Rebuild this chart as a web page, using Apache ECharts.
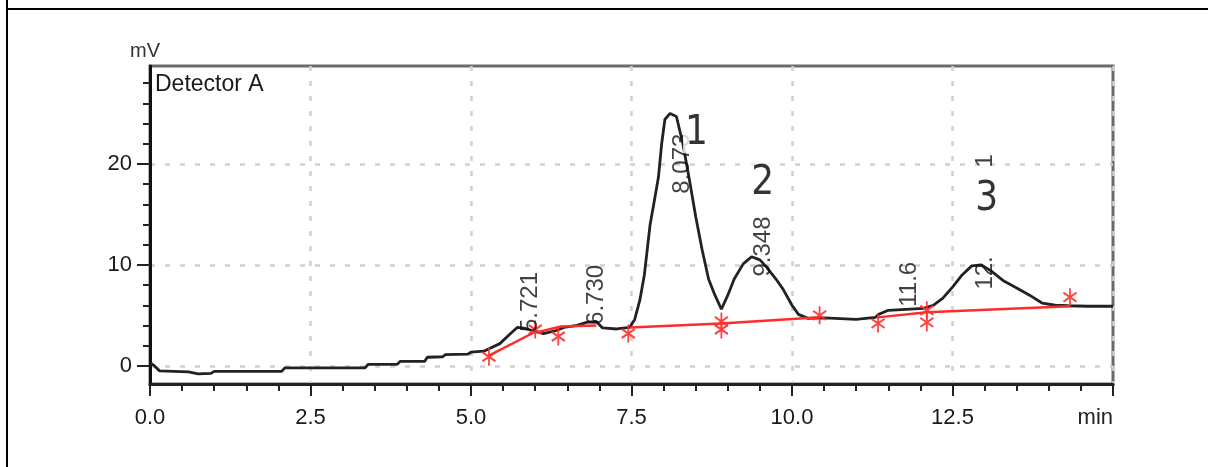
<!DOCTYPE html>
<html lang="en">
<head>
<meta charset="UTF-8">
<title>Chromatogram</title>
<script src="https://cdn.jsdelivr.net/npm/echarts@6/dist/echarts.min.js"></script>
<style>
  html, body { margin: 0; padding: 0; background: #fff; }
  #main { position: absolute; left: 0; top: 0; width: 1208px; height: 467px; }
  .edgeL { position: absolute; left: 6px; top: 0; width: 2px; height: 467px; background: #000; }
  .edgeT { position: absolute; left: 6px; top: 8px; width: 1202px; height: 2px; background: #000; }
</style>
</head>
<body>
<div id="main"></div>
<div class="edgeL"></div>
<div class="edgeT"></div>
<script type="text/javascript">
// detector trace (min, mV)
var traceTime = [0.00, 0.05, 0.15, 0.60, 0.75, 0.95, 1.00, 2.05, 2.10, 3.35, 3.40, 3.85, 3.90, 4.28, 4.32, 4.56, 4.60, 4.95,
  5.00, 5.20, 5.28, 5.45, 5.60, 5.72, 5.85, 5.95, 6.13, 6.33, 6.45, 6.65, 6.80, 6.95, 7.05, 7.27, 7.47, 7.55, 7.63, 7.70,
  7.79, 7.86, 7.92, 7.97, 8.02, 8.10, 8.20, 8.30, 8.40, 8.50, 8.60, 8.70, 8.80, 8.90, 9.00, 9.10, 9.24, 9.37, 9.50, 9.60,
  9.75, 9.86, 10.00, 10.10, 10.25, 10.50, 11.00, 11.30, 11.35, 11.50, 12.05, 12.20, 12.35, 12.50, 12.65, 12.80, 12.95,
  13.10, 13.30, 13.50, 13.70, 13.90, 14.10, 14.30, 14.60, 15.00];
var traceMv = [0.3, 0.1, -0.5, -0.6, -0.8, -0.75, -0.55, -0.55, -0.2, -0.2, 0.15, 0.15, 0.45, 0.45, 0.85, 0.9, 1.1, 1.15,
  1.35, 1.45, 1.7, 2.2, 3.1, 3.8, 3.7, 3.5, 3.2, 3.5, 3.8, 4.0, 4.3, 4.4, 3.75, 3.65, 3.8, 4.6, 6.5, 9.0,
  14.0, 16.5, 18.7, 22.0, 24.4, 25.0, 24.7, 22.0, 18.5, 14.8, 11.5, 8.6, 7.0, 5.6, 7.0, 8.6, 10.1, 10.8, 10.5, 9.8,
  8.6, 7.6, 6.0, 5.1, 4.7, 4.75, 4.6, 4.8, 5.1, 5.5, 5.7, 6.0, 6.7, 7.8, 9.0, 9.9, 10.0,
  9.4, 8.4, 7.7, 7.0, 6.2, 6.0, 5.95, 5.9, 5.9];

// integration baselines (null breaks the line)
var baseTime = [5.28, 5.98, null, 6.02, 6.40, 6.95, null, 7.48, 8.90, 10.43, null, 11.34, 12.10, 14.33];
var baseMv = [1.0, 3.3, null, 3.3, 3.9, 4.0, null, 3.8, 4.2, 4.8, null, 4.8, 5.3, 5.9];

// peak start/end marks
var markTime = [5.28, 6.00, 6.36, 7.45, 8.90, 8.90, 10.43, 11.34, 12.10, 12.10, 14.33];
var markMv = [0.9, 3.6, 2.9, 3.2, 4.4, 3.6, 5.0, 4.2, 5.5, 4.3, 6.8];

// retention time labels (rotated), anchored at their lower end
var rtText = ['5.721', '6.730', '8.073', '9.348', '11.6', '12.', '1'];
var rtTime = [5.93, 6.96, 8.30, 9.56, 11.84, 13.02, 13.02];
var rtMv = [3.3, 4.0, 17.0, 8.8, 5.8, 7.5, 19.6];

// peak numbers
var peakNo = ['1', '2', '3'];
var peakNoTime = [8.52, 9.55, 13.04];
var peakNoMv = [23.0, 18.0, 16.4];

var yMajor = [0, 10, 20];
var yMinor = [2, 4, 6, 8, 12, 14, 16, 18, 22, 24, 26, 28];

function zip(a, b, c) {
  return a.map(function (v, i) {
    if (v === null) return [null, null];
    return c ? [v, b[i], c[i]] : [v, b[i]];
  });
}

var asterisk = 'path://M-1.2,-10 L1.2,-10 L1.2,10 L-1.2,10 Z M9.26,3.96 L8.06,6.04 L-9.26,-3.96 L-8.06,-6.04 Z M8.06,-6.04 L9.26,-3.96 L-8.06,6.04 L-9.26,3.96 Z';

var font = '"Liberation Sans", Arial, sans-serif';
var narrow = '"Liberation Sans Narrow", "DejaVu Sans Condensed", sans-serif';
var myChart = echarts.init(document.getElementById('main'));

var option = {
  animation: false,
  backgroundColor: '#fff',
  title: {
    text: 'Detector A', left: 150, top: 68,
    textStyle: { fontFamily: font, fontSize: 23, fontWeight: 'normal', color: '#1a1a1a' }
  },
  grid: { left: 150, right: 95, top: 66, bottom: 83, show: true, borderColor: '#6a6a6a', borderWidth: 3 },
  xAxis: {
    type: 'value', min: 0, max: 15, interval: 2.5,
    name: 'min', nameLocation: 'end', nameGap: 0,
    nameTextStyle: { fontFamily: font, fontSize: 22, color: '#222', align: 'right', verticalAlign: 'top', padding: [23, 0, 0, 0] },
    axisLine: { onZero: false, lineStyle: { color: '#222', width: 3 } },
    axisTick: { length: 12, lineStyle: { color: '#222', width: 2 } },
    minorTick: { show: true, splitNumber: 5, length: 7, lineStyle: { color: '#222', width: 2 } },
    axisLabel: {
      fontFamily: font, fontSize: 22, color: '#1a1a1a', margin: 23,
      formatter: function (v) { return v === 15 ? '' : v.toFixed(1); }
    },
    splitLine: { lineStyle: { type: [5, 10], color: '#d0d0d0', width: 2.5 } }
  },
  yAxis: [{
    type: 'value', min: -1.8, max: 29.7,
    name: 'mV', nameLocation: 'end', nameGap: 5,
    nameTextStyle: { fontFamily: font, fontSize: 20, color: '#333', padding: [0, 10, 0, 0] },
    axisLine: { show: true, onZero: false, lineStyle: { color: '#111', width: 3 } },
    axisTick: { show: true, customValues: yMajor, length: 13, lineStyle: { color: '#222', width: 2 } },
    axisLabel: { customValues: yMajor, fontFamily: font, fontSize: 22, color: '#1a1a1a', margin: 18 },
    splitLine: { show: true, lineStyle: { type: [5, 10], color: '#d0d0d0', width: 2.5 } }
  }, {
    type: 'value', min: -1.8, max: 29.7, position: 'left', offset: 0,
    axisLine: { show: false, onZero: false },
    axisTick: { show: true, customValues: yMinor, length: 7, lineStyle: { color: '#222', width: 2 } },
    axisLabel: { show: false },
    splitLine: { show: false }
  }],
  series: [{
    name: 'trace', type: 'line', data: zip(traceTime, traceMv),
    showSymbol: false, symbol: 'none',
    lineStyle: { color: '#222', width: 2.8 }, z: 3
  }, {
    name: 'baseline', type: 'line', data: zip(baseTime, baseMv),
    showSymbol: false, symbol: 'none', connectNulls: false,
    lineStyle: { color: '#ff2a2a', width: 2.5 }, z: 4
  }, {
    name: 'marks', type: 'scatter', data: zip(markTime, markMv),
    symbol: asterisk, symbolSize: [14, 18],
    itemStyle: { color: '#ff3030', opacity: 0.9 }, z: 5
  }, {
    name: 'rt', type: 'scatter', data: zip(rtTime, rtMv, rtText),
    symbol: 'circle', symbolSize: 1,
    itemStyle: { color: 'rgba(0,0,0,0)' },
    label: {
      show: true, position: [0, 0], rotate: 90, align: 'left', verticalAlign: 'middle',
      fontFamily: font, fontSize: 24, color: '#111',
      formatter: function (p) { return p.value[2]; }
    }, z: 6
  }, {
    name: 'peakNo', type: 'scatter', data: zip(peakNoTime, peakNoMv, peakNo),
    symbol: 'circle', symbolSize: 1,
    itemStyle: { color: 'rgba(0,0,0,0)' },
    label: {
      show: true, position: [0, 0], align: 'center', verticalAlign: 'middle',
      fontFamily: narrow, fontSize: 40, color: '#000',
      backgroundColor: '#fff', padding: [0, 2],
      formatter: function (p) { return p.value[2]; }
    }, z: 7
  }]
};

myChart.setOption(option);
</script>
</body>
</html>
